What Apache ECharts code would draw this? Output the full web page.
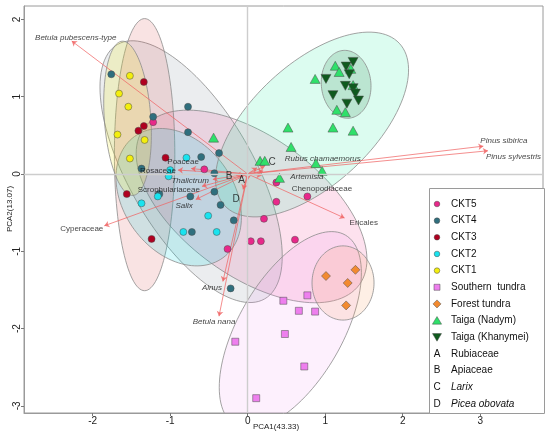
<!DOCTYPE html>
<html><head><meta charset="utf-8">
<script src="https://cdn.jsdelivr.net/npm/echarts@6.0.0/dist/echarts.min.js"></script>
<style>html,body{margin:0;padding:0;background:#fff}#c{width:550px;height:438px}</style>
</head><body><div id="c"></div>
<script>
// ---------- data ----------
const xTicks = [-2, -1, 0, 1, 2, 3];
const yTicks = [-3, -2, -1, 0, 1, 2];
const xTitle = 'PCA1(43.33)';
const yTitle = 'PCA2(13.07)';

const groupNames = ['CKT5','CKT4','CKT3','CKT2','CKT1','Southern  tundra','Forest tundra','Taiga (Nadym)','Taiga (Khanymei)'];

const ckt5 = [[-1.22,0.67],[-0.56,0.06],[0.37,-0.11],[0.37,-0.36],[0.77,-0.29],[0.21,-0.58],[0.04,-0.87],[0.17,-0.87],[0.61,-0.85],[-0.26,-0.97]];
const ckt4 = [[-1.76,1.29],[-1.22,0.74],[-0.77,0.87],[-0.77,0.54],[-0.60,0.22],[-0.37,0.27],[-0.43,0.01],[-1.37,0.07],[-0.43,-0.23],[-0.74,-0.29],[-1.14,-0.26],[-0.35,-0.40],[-0.18,-0.60],[-0.72,-0.75],[-0.22,-1.48]];
const ckt3 = [[-1.34,1.19],[-1.34,0.62],[-1.41,0.56],[-1.06,0.21],[-1.56,-0.26],[-1.24,-0.84]];
const ckt2 = [[-0.79,0.21],[-1.00,0.05],[-1.02,-0.03],[-1.16,-0.29],[-1.37,-0.38],[-0.51,-0.54],[-0.83,-0.75],[-0.40,-0.75]];
const ckt1 = [[-1.52,1.27],[-1.66,1.04],[-1.54,0.87],[-1.68,0.51],[-1.33,0.44],[-1.52,0.20]];
const southernTundra = [[0.46,-1.64],[0.77,-1.57],[0.66,-1.77],[0.87,-1.78],[0.48,-2.07],[-0.16,-2.17],[0.73,-2.49],[0.11,-2.90]];
const forestTundra = [[1.01,-1.32],[1.29,-1.41],[1.39,-1.24],[1.27,-1.70]];
const taigaNadym = [[-0.44,0.47],[0.16,0.17],[0.22,0.17],[0.41,-0.05],[0.56,0.35],[0.88,0.14],[0.96,0.04],[0.52,0.60],[1.10,0.60],[1.36,0.56],[1.15,0.83],[1.26,0.80],[0.87,1.23],[1.13,1.40],[1.18,1.32],[1.33,1.36],[1.36,1.15]];
const taigaKhanymei = [[1.27,1.39],[1.36,1.45],[1.31,1.29],[1.01,1.23],[1.26,1.14],[1.36,1.11],[1.39,1.04],[1.10,1.02],[1.43,0.95],[1.28,0.91]];

// confidence ellipses: [centerX, centerY, semiAxisA, semiAxisB, angleDeg] (data units)
const ellipseCKT5 = [0.05,-0.42,1.72,0.90,-36];
const ellipseCKT4 = [-0.73,0.03,1.90,0.80,-60];
const ellipseCKT3 = [-1.33,0.25,1.76,0.39,90];
const ellipseCKT2 = [-0.89,-0.30,0.97,0.71,-54];
const ellipseCKT1 = [-1.55,0.72,1.00,0.30,94];
const ellipseSouthern = [0.55,-2.02,1.42,0.67,60];
const ellipseForest = [1.23,-1.41,0.48,0.40,90];
const ellipseNadym = [0.83,0.64,1.54,0.78,43];
const ellipseKhanymei = [1.27,1.16,0.44,0.32,95];

// variable loadings (arrow tips)
const loadingNames = ['Betula pubescens-type','Pinus sibirica','Pinus sylvestris','Ericales','Cyperaceae','Alnus','Betula nana','Poaceae','Rosaceae','Thalictrum','Scrophulariaceae','Salix','Rubus chamaemorus','Artemisia','Chenopodiaceae','Larix','Rubiaceae','Apiaceae','Picea obovata'];
const loadingPC1 = [-2.27,3.04,3.10,1.25,-1.85,-0.32,-0.37,-0.73,-0.90,-0.45,-0.59,-0.67,0.22,0.20,0.18,0.12,0.00,-0.15,-0.06];
const loadingPC2 = [1.72,0.36,0.30,-0.57,-0.67,-1.39,-1.84,0.07,0.05,-0.07,-0.16,-0.33,0.10,0.04,-0.02,0.08,-0.08,-0.02,-0.20];

const letterCodes = ['A','B','C','D'];
const letterNames = ['Rubiaceae','Apiaceae','Larix','Picea obovata'];

// ---------- styles ----------
const FONT = '"Liberation Sans", Arial, sans-serif';
const groupStyle = [
  {color:'#e8288a', symbol:'circle', size:7, fill:'rgba(240,70,150,0.16)'},
  {color:'#2f6f7e', symbol:'circle', size:7, fill:'rgba(110,130,140,0.14)'},
  {color:'#b00020', symbol:'circle', size:7, fill:'rgba(215,70,70,0.15)'},
  {color:'#19e3ef', symbol:'circle', size:7, fill:'rgba(0,215,225,0.17)'},
  {color:'#f3ee0e', symbol:'circle', size:7, fill:'rgba(245,240,0,0.17)'},
  {color:'#ee7fee', symbol:'rect', size:7, fill:'rgba(240,140,240,0.13)'},
  {color:'#f28a30', symbol:'diamond', size:9, fill:'rgba(245,150,80,0.15)'},
  {color:'#2fe06a', symbol:'triangle', size:[10,9], fill:'rgba(60,240,170,0.18)'},
  {color:'#0f5a1e', symbol:'path://M0,0L10,0L5,9Z', size:[10,9], fill:'rgba(20,110,50,0.16)'}
];
const italicNames = new Set(['Betula pubescens-type','Pinus sibirica','Pinus sylvestris','Alnus','Betula nana','Thalictrum','Salix','Rubus chamaemorus','Artemisia','Larix','Picea obovata']);
const labelPlace = {
 'Betula pubescens-type':[4,-3,'center'],
 'Pinus sibirica':[-3,-5,'left'],
 'Pinus sylvestris':[-2,6,'left'],
 'Ericales':[5,5,'left'],
 'Cyperaceae':[-1,3,'right'],
 'Alnus':[-1,6,'right'],
 'Betula nana':[-5,6,'center'],
 'Poaceae':[-8,-7,'center'],
 'Rosaceae':[-2,1,'right'],
 'Thalictrum':[-4,1,'right'],
 'Scrophulariaceae':[-2,3,'right'],
 'Salix':[-3,6.5,'right'],
 'Rubus chamaemorus':[20,-7,'left'],
 'Artemisia':[27,6,'left'],
 'Chenopodiaceae':[30,13.5,'left'],
 'Larix':[15,-5.5,'center'],
 'Rubiaceae':[-6,0,'center'],
 'Apiaceae':[-7,1,'center'],
 'Picea obovata':[-7,10,'center']
};

const groupData = [ckt5, ckt4, ckt3, ckt2, ckt1, southernTundra, forestTundra, taigaNadym, taigaKhanymei];
const ellipseData = [ellipseCKT5, ellipseCKT4, ellipseCKT3, ellipseCKT2, ellipseCKT1, ellipseSouthern, ellipseForest, ellipseNadym, ellipseKhanymei];

// ---------- build ----------
const chart = echarts.init(document.getElementById('c'), null, {renderer:'canvas'});

function renderEllipse(params, api) {
  const cx = api.value(0), cy = api.value(1), a = api.value(2), b = api.value(3);
  const ang = api.value(4) * Math.PI / 180;
  const gi = api.value(5);
  const pts = [];
  const N = 120;
  for (let i = 0; i < N; i++) {
    const t = i / N * Math.PI * 2;
    const ex = a * Math.cos(t), ey = b * Math.sin(t);
    pts.push(api.coord([cx + ex * Math.cos(ang) - ey * Math.sin(ang), cy + ex * Math.sin(ang) + ey * Math.cos(ang)]));
  }
  const cs = params.coordSys;
  return {
    type: 'polygon',
    shape: {points: pts},
    style: {fill: groupStyle[gi].fill, stroke: '#8c8c8c', lineWidth: 0.8},
    clipPath: {type:'rect', shape:{x:cs.x, y:cs.y, width:cs.width, height:cs.height}}
  };
}

const series = [];
series.push({
  type: 'custom',
  renderItem: renderEllipse,
  clip: true,
  data: ellipseData.map((e, i) => e.concat([i])),
  z: 1,
  silent: true,
  markLine: {
    silent: true, symbol: 'none', label: {show:false},
    lineStyle: {color:'#cdcdcd', width:1.4, type:'solid'},
    data: [{xAxis: 0}, {yAxis: 0}]
  }
});

series.push({
  type: 'lines',
  coordinateSystem: 'cartesian2d',
  z: 3,
  silent: true,
  symbol: ['none', 'arrow'],
  symbolSize: 5,
  lineStyle: {color:'#f06262', width:0.9, opacity:0.8},
  data: loadingNames.map((n, i) => ({coords: [[0, 0], [loadingPC1[i], loadingPC2[i]]]}))
});

groupData.forEach((d, i) => {
  const s = groupStyle[i];
  series.push({
    name: groupNames[i],
    type: 'scatter',
    z: 4,
    symbol: s.symbol,
    symbolSize: s.size,
    itemStyle: {color: s.color, borderColor: '#4a4a4a', borderWidth: 0.5, opacity: 1},
    data: d
  });
});

series.push({
  type: 'scatter',
  z: 5,
  silent: true,
  symbolSize: 0,
  data: loadingNames.map((n, i) => {
    const li = letterNames.indexOf(n);
    const isLetter = li >= 0;
    const p = labelPlace[n];
    return {
      value: [loadingPC1[i], loadingPC2[i]],
      name: n,
      label: {
        show: true,
        position: 'inside',
        formatter: isLetter ? letterCodes[li] : n,
        offset: [p[0], p[1]],
        align: p[2],
        verticalAlign: 'middle',
        fontSize: isLetter ? 10 : 8,
        fontStyle: (!isLetter && italicNames.has(n)) ? 'italic' : 'normal',
        color: '#111',
        fontFamily: FONT
      }
    };
  })
});

// legend built as graphic
const legendItems = [];
const LX = 429, LY = 188, LW = 115, LH = 225, SX = 437, TX = 451, R0 = 204, STEP = 16.65;
legendItems.push({type:'rect', shape:{x:LX+0.5, y:LY+0.5, width:LW, height:LH}, style:{fill:'#fff', stroke:'#9a9a9a', lineWidth:1}, z:100});
function legendSymbol(i, y) {
  const s = groupStyle[i];
  const st = {fill: s.color, stroke:'#4a4a4a', lineWidth:0.5};
  if (s.symbol === 'circle') return {type:'circle', shape:{cx:SX, cy:y, r:2.8}, style:st, z:101};
  if (s.symbol === 'rect') return {type:'rect', shape:{x:SX-3, y:y-3, width:6, height:6}, style:st, z:101};
  if (s.symbol === 'diamond') return {type:'polygon', shape:{points:[[SX,y-4],[SX+4,y],[SX,y+4],[SX-4,y]]}, style:st, z:101};
  if (s.symbol === 'triangle') return {type:'polygon', shape:{points:[[SX,y-4],[SX+4.6,y+3.6],[SX-4.6,y+3.6]]}, style:st, z:101};
  return {type:'polygon', shape:{points:[[SX-4.5,y-3.6],[SX+4.5,y-3.6],[SX,y+4]]}, style:st, z:101};
}
groupNames.forEach((n, i) => {
  const y = R0 + i * STEP;
  legendItems.push(legendSymbol(i, y));
  legendItems.push({type:'text', x:TX, y:y, style:{text:n, font:'10px ' + FONT, fill:'#111', align:'left', verticalAlign:'middle'}, z:101});
});
letterCodes.forEach((c, j) => {
  const y = R0 + (groupNames.length + j) * STEP;
  const it = italicNames.has(letterNames[j]);
  legendItems.push({type:'text', x:SX, y:y, style:{text:c, font:'10px ' + FONT, fill:'#111', align:'center', verticalAlign:'middle'}, z:101});
  legendItems.push({type:'text', x:TX, y:y, style:{text:letterNames[j], font:(it ? 'italic ' : '') + '10px ' + FONT, fill:'#111', align:'left', verticalAlign:'middle'}, z:101});
});
legendItems.push({type:'text', x:276, y:427, style:{text:xTitle, font:'8px ' + FONT, fill:'#222', align:'center', verticalAlign:'middle'}, z:101});
legendItems.push({type:'text', x:10, y:209, rotation:Math.PI/2, style:{text:yTitle, font:'8px ' + FONT, fill:'#222', align:'center', verticalAlign:'middle'}, z:101});

const axisCommon = {
  type: 'value',
  axisLine: {show: true, onZero: false, lineStyle: {color:'#9a9a9a', width:1}},
  axisTick: {show: true, length: 3, lineStyle: {color:'#777'}},
  splitLine: {show: false},
  axisLabel: {color:'#222', fontSize: 10, fontFamily: FONT}
};

chart.setOption({
  animation: false,
  backgroundColor: '#fff',
  textStyle: {fontFamily: FONT},
  grid: {left: 24, right: 7, top: 6, bottom: 25, show: true, borderColor: '#9a9a9a', borderWidth: 1, containLabel: false},
  xAxis: Object.assign({}, axisCommon, {
    min: -2.886, max: 3.81,
    axisTick: Object.assign({}, axisCommon.axisTick, {customValues: xTicks}),
    axisLabel: Object.assign({}, axisCommon.axisLabel, {customValues: xTicks, margin: 3})
  }),
  yAxis: Object.assign({}, axisCommon, {
    min: -3.092, max: 2.173,
    axisTick: Object.assign({}, axisCommon.axisTick, {customValues: yTicks}),
    axisLabel: Object.assign({}, axisCommon.axisLabel, {customValues: yTicks, rotate: 90, margin: 2})
  }),
  graphic: legendItems,
  series: series
});
</script>
</body></html>
